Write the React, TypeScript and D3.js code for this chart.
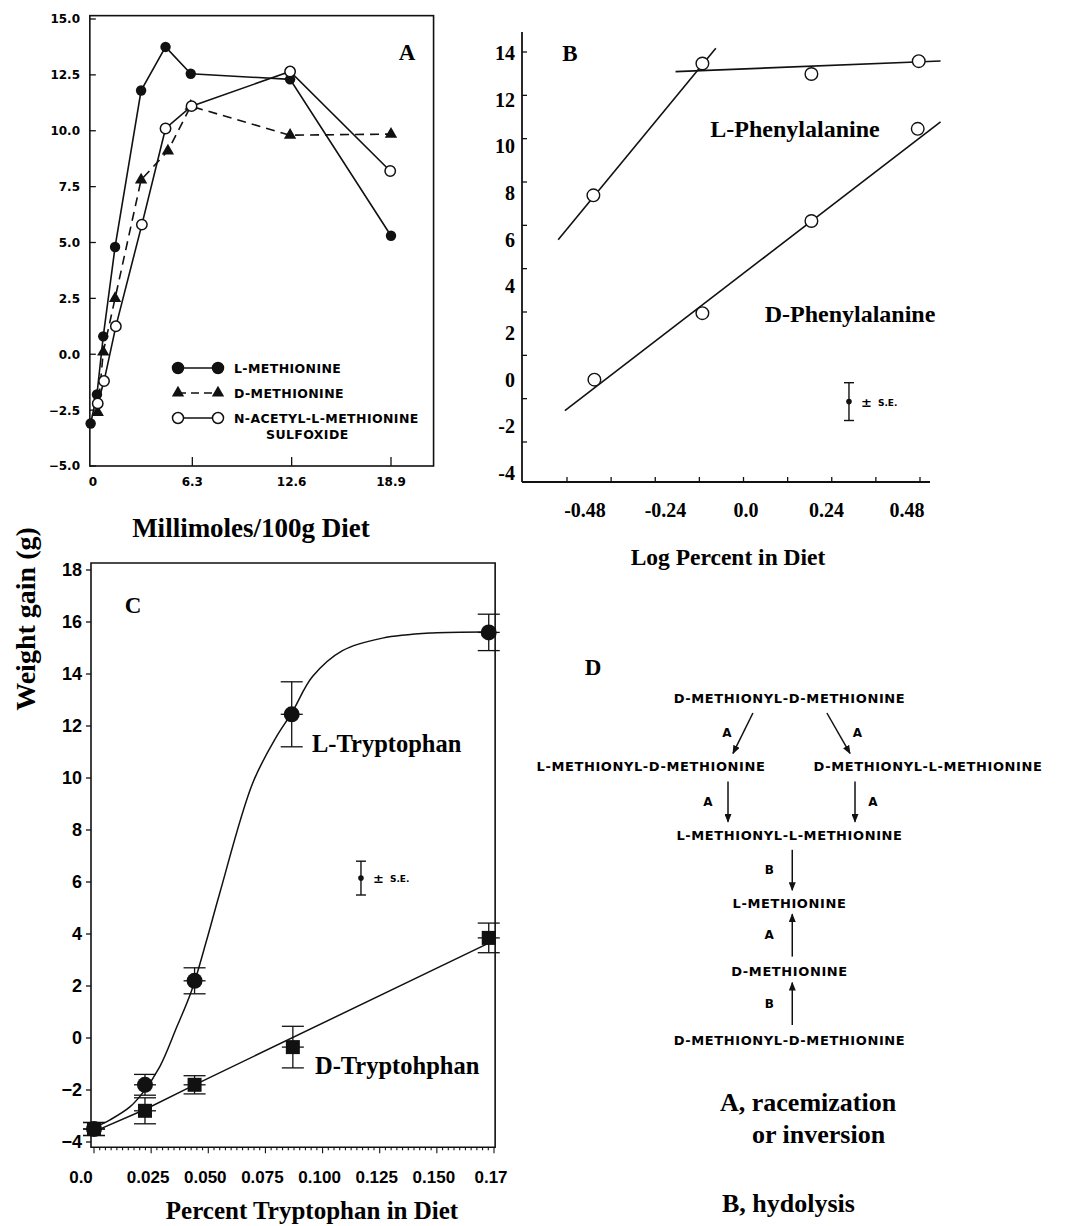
import * as d3 from "d3";

const SERIF = "'Liberation Serif', 'Times New Roman', serif";
const ARIAL = "'Liberation Sans', Arial, sans-serif";
const DEJAVU = "'DejaVu Sans', Verdana, sans-serif";
const INK = "#111";

// ---- Panel A: weight gain vs millimoles / 100 g diet
const aTicksY = [-5, -2.5, 0, 2.5, 5, 7.5, 10, 12.5, 15];
const aTicksX = [0, 6.3, 12.6, 18.9];
const lMetX = [-0.15, 0.25, 0.65, 1.4, 3.05, 4.6, 6.2, 12.5, 18.9];
const lMetY = [-3.1, -1.8, 0.8, 4.8, 11.8, 13.75, 12.55, 12.3, 5.3];
const dMetX = [0.3, 0.65, 1.4, 3.05, 4.75, 6.2, 12.5, 18.9];
const dMetY = [-2.6, 0.1, 2.5, 7.8, 9.1, 11.1, 9.8, 9.85];
const nAcX = [0.3, 0.7, 1.45, 3.1, 4.6, 6.25, 12.5, 18.85];
const nAcY = [-2.2, -1.2, 1.25, 5.8, 10.1, 11.1, 12.65, 8.2];
const aLegend = ["L-METHIONINE", "D-METHIONINE", "N-ACETYL-L-METHIONINE"];

// ---- Panel B: log percent in diet
const bTicksY = [-4, -2, 0, 2, 4, 6, 8, 10, 12, 14];
const bTicksX = [-0.48, -0.24, 0, 0.24, 0.48];
const bTickLabelsX = ["-0.48", "-0.24", "0.0", "0.24", "0.48"];
const lPheX = [-0.455, -0.13, 0.195, 0.515];
const lPheY = [7.9, 13.55, 13.1, 13.65];
const dPheX = [-0.452, -0.13, 0.195, 0.512];
const dPheY = [0.0, 2.85, 6.8, 10.75];
const lPheRiseX = [-0.56, -0.09];
const lPheRiseY = [6.0, 14.2];
const lPhePlateauX = [-0.21, 0.58];
const lPhePlateauY = [13.2, 13.66];
const dPheFitX = [-0.54, 0.58];
const dPheFitY = [-1.33, 11.05];
const bSE = { x: 0.307, y: -0.94, se: 0.81 };

// ---- Panel C: percent tryptophan in diet
const cTicksY = [-4, -2, 0, 2, 4, 6, 8, 10, 12, 14, 16, 18];
const cTicksX = [0, 0.025, 0.05, 0.075, 0.1, 0.125, 0.15, 0.175];
const cTickLabelsX = ["0.0", "0.025", "0.050", "0.075", "0.100", "0.125", "0.150", "0.17"];
const lTrpX = [0, 0.0223, 0.044, 0.0865, 0.1727];
const lTrpY = [-3.5, -1.8, 2.2, 12.45, 15.6];
const lTrpErr = [0.25, 0.4, 0.5, 1.25, 0.7];
const dTrpX = [0, 0.0223, 0.044, 0.087, 0.1727];
const dTrpY = [-3.5, -2.8, -1.8, -0.35, 3.85];
const dTrpErr = [0.25, 0.5, 0.35, 0.8, 0.57];
const lTrpCurveX = [0, 0.007, 0.0157, 0.0214, 0.0288, 0.0362, 0.0428, 0.0493, 0.055, 0.0694, 0.0799, 0.0865, 0.0956, 0.1087, 0.1262, 0.148, 0.1725];
const lTrpCurveY = [-3.46, -3.15, -2.65, -2.1, -1.1, 0.42, 1.85, 3.77, 5.57, 9.8, 11.6, 12.5, 13.9, 14.9, 15.38, 15.58, 15.62];
const dTrpLineX = [0, 0.0223, 0.044, 0.1727];
const dTrpLineY = [-3.6, -2.75, -1.8, 3.65];
const cSE = { x: 0.1168, y: 6.15, se: 0.65 };

// ---- Panel D: pathway
const dNodes = [
  { label: "D-METHIONYL-D-METHIONINE", row: 0, col: 0 },
  { label: "L-METHIONYL-D-METHIONINE", row: 1, col: -1 },
  { label: "D-METHIONYL-L-METHIONINE", row: 1, col: 1 },
  { label: "L-METHIONYL-L-METHIONINE", row: 2, col: 0 },
  { label: "L-METHIONINE", row: 3, col: 0 },
  { label: "D-METHIONINE", row: 4, col: 0 },
  { label: "D-METHIONYL-D-METHIONINE", row: 5, col: 0 },
];
const dEdges = [
  { from: 0, to: 1, c0: -0.264, c1: -0.408, step: "A", dx: -16 },
  { from: 0, to: 1, c0: 0.27, c1: 0.437, step: "A", dx: 19 },
  { from: 1, to: 2, c0: -0.444, c1: -0.444, step: "A", dx: -20 },
  { from: 1, to: 2, c0: 0.473, c1: 0.473, step: "A", dx: 18 },
  { from: 2, to: 3, c0: 0.02, c1: 0.02, step: "B", dx: -23 },
  { from: 4, to: 3, c0: 0.02, c1: 0.02, step: "A", dx: -23 },
  { from: 5, to: 4, c0: 0.02, c1: 0.02, step: "B", dx: -23 },
];

type Pt = [number, number];
const pairs = (xs: number[], ys: number[]): Pt[] => xs.map((v, i) => [v, ys[i]]);

function PanelA() {
  const x = d3.scaleLinear().domain([0, 18.9]).range([93, 391]);
  const y = d3.scaleLinear().domain([-5, 15]).range([466, 19]);
  const left = x(-0.2), right = x(21.6), top = y(15.15), bottom = y(-5);
  const line = d3.line<Pt>().x((d) => x(d[0])).y((d) => y(d[1]));
  const tri = d3.symbol().type(d3.symbolTriangle).size(66)()!;
  const fmt = d3.format(".1f");
  const lm = pairs(lMetX, lMetY);
  const dm = pairs(dMetX, dMetY);
  const na = pairs(nAcX, nAcY);
  return (
    <g>
      <rect x={left} y={top} width={right - left} height={bottom - top} fill="none" stroke={INK} strokeWidth={1.6} />
      {aTicksY.map((t) => (
        <g key={t}>
          <line x1={left} x2={left + 6} y1={y(t)} y2={y(t)} stroke={INK} strokeWidth={1.3} />
          <text x={80} y={y(t) + 4.4} textAnchor="end" fontFamily={DEJAVU} fontWeight="bold" fontSize={12}>
            {fmt(t)}
          </text>
        </g>
      ))}
      {aTicksX.map((t) => (
        <g key={t}>
          {t > 0 && <line x1={x(t)} x2={x(t)} y1={bottom} y2={bottom - 9} stroke={INK} strokeWidth={1.3} />}
          <text x={x(t)} y={y(-5) + 20} textAnchor="middle" fontFamily={DEJAVU} fontWeight="bold" fontSize={12}>
            {t === 0 ? "0" : t.toFixed(1)}
          </text>
        </g>
      ))}
      <path d={line(lm)!} fill="none" stroke={INK} strokeWidth={1.6} />
      <path d={line(dm)!} fill="none" stroke={INK} strokeWidth={1.6} strokeDasharray="9 6" />
      <path d={line(na)!} fill="none" stroke={INK} strokeWidth={1.6} />
      {lm.map((d, i) => (
        <circle key={"l" + i} cx={x(d[0])} cy={y(d[1])} r={5.2} fill={INK} />
      ))}
      {dm.map((d, i) => (
        <path key={"d" + i} d={tri} transform={`translate(${x(d[0])},${y(d[1])})`} fill={INK} />
      ))}
      {na.map((d, i) => (
        <circle key={"n" + i} cx={x(d[0])} cy={y(d[1])} r={5.2} fill="#fff" stroke={INK} strokeWidth={1.5} />
      ))}
      <text x={407} y={59.5} textAnchor="middle" fontFamily={SERIF} fontWeight="bold" fontSize={23}>A</text>
      {aLegend.map((label, i) => {
        const ly = 368 + i * 25;
        return (
          <g key={label}>
            <line x1={178} x2={218} y1={ly} y2={ly} stroke={INK} strokeWidth={1.6} strokeDasharray={i === 1 ? "8 5" : undefined} />
            {[178, 218].map((mx) =>
              i === 1 ? (
                <path key={mx} d={tri} transform={`translate(${mx},${ly})`} fill={INK} />
              ) : (
                <circle key={mx} cx={mx} cy={ly} r={5.5} fill={i === 0 ? INK : "#fff"} stroke={INK} strokeWidth={1.5} />
              )
            )}
            <text x={234} y={ly + 4.6} fontFamily={DEJAVU} fontWeight="bold" fontSize={12.5} letterSpacing={0.4}>
              {label}
            </text>
            {i === 2 && (
              <text x={266} y={ly + 20.6} fontFamily={DEJAVU} fontWeight="bold" fontSize={12.5} letterSpacing={0.4}>
                SULFOXIDE
              </text>
            )}
          </g>
        );
      })}
      <text x={251} y={537} textAnchor="middle" fontFamily={SERIF} fontWeight="bold" fontSize={27}>
        Millimoles/100g Diet
      </text>
    </g>
  );
}

function SEMark({ cx, cy, half, size }: { cx: number; cy: number; half: number; size: number }) {
  return (
    <g>
      <line x1={cx} x2={cx} y1={cy - half} y2={cy + half} stroke={INK} strokeWidth={1.4} />
      <line x1={cx - 5} x2={cx + 5} y1={cy - half} y2={cy - half} stroke={INK} strokeWidth={1.4} />
      <line x1={cx - 5} x2={cx + 5} y1={cy + half} y2={cy + half} stroke={INK} strokeWidth={1.4} />
      <circle cx={cx} cy={cy} r={2.8} fill={INK} />
      <text x={cx + 12} y={cy + 5} fontFamily={DEJAVU} fontWeight="bold" fontSize={size + 4}>±</text>
      <text x={cx + 29} y={cy + 4} fontFamily={DEJAVU} fontWeight="bold" fontSize={size}>S.E.</text>
    </g>
  );
}

function PanelB() {
  const x = d3.scaleLinear().domain([-0.48, 0.48]).range([585, 907]);
  const y = d3.scaleLinear().domain([-4, 14]).range([473, 53]);
  // tick marks of the pasted-up axis sit on a slightly tighter spacing than the labels
  const yTick = d3.scaleLinear().domain([-4, 14]).range([442, 52]);
  const xTick = d3.scaleLinear().domain([0, 8]).range([567, 920]);
  const axisX = 522, axisY = 482;
  const line = d3.line<Pt>().x((d) => x(d[0])).y((d) => y(d[1]));
  return (
    <g>
      <line x1={axisX} x2={axisX} y1={32} y2={axisY} stroke={INK} strokeWidth={1.8} />
      <line x1={axisX} x2={930} y1={axisY} y2={axisY} stroke={INK} strokeWidth={1.8} />
      {bTicksY.map((t) => (
        <g key={t}>
          <line x1={axisX} x2={axisX + 5} y1={yTick(t)} y2={yTick(t)} stroke={INK} strokeWidth={1.3} />
          <text x={515} y={y(t) + 7} textAnchor="end" fontFamily={SERIF} fontWeight="bold" fontSize={20}>
            {t}
          </text>
        </g>
      ))}
      {d3.range(9).map((i) => (
        <line key={i} x1={xTick(i)} x2={xTick(i)} y1={axisY} y2={axisY - 5} stroke={INK} strokeWidth={1.3} />
      ))}
      {bTicksX.map((t, i) => (
        <text key={t} x={x(t)} y={517} textAnchor="middle" fontFamily={SERIF} fontWeight="bold" fontSize={20}>
          {bTickLabelsX[i]}
        </text>
      ))}
      <path d={line(pairs(lPheRiseX, lPheRiseY))!} stroke={INK} strokeWidth={1.6} fill="none" />
      <path d={line(pairs(lPhePlateauX, lPhePlateauY))!} stroke={INK} strokeWidth={1.6} fill="none" />
      <path d={line(pairs(dPheFitX, dPheFitY))!} stroke={INK} strokeWidth={1.6} fill="none" />
      {pairs(lPheX, lPheY).concat(pairs(dPheX, dPheY)).map((d, i) => (
        <circle key={i} cx={x(d[0])} cy={y(d[1])} r={6.3} fill="#fff" stroke={INK} strokeWidth={1.4} />
      ))}
      <SEMark cx={x(bSE.x)} cy={y(bSE.y)} half={y(bSE.y) - y(bSE.y + bSE.se)} size={9} />
      <text x={570} y={60.5} textAnchor="middle" fontFamily={SERIF} fontWeight="bold" fontSize={23}>B</text>
      <text x={795} y={137} textAnchor="middle" fontFamily={SERIF} fontWeight="bold" fontSize={24}>L-Phenylalanine</text>
      <text x={850} y={322} textAnchor="middle" fontFamily={SERIF} fontWeight="bold" fontSize={24}>D-Phenylalanine</text>
      <text x={728} y={565} textAnchor="middle" fontFamily={SERIF} fontWeight="bold" fontSize={23.5}>Log Percent in Diet</text>
    </g>
  );
}

function PanelC() {
  const x = d3.scaleLinear().domain([0, 0.175]).range([94, 494]);
  const y = d3.scaleLinear().domain([-4, 18]).range([1142, 570]);
  const left = 91, right = x(0.1755), top = y(18.27), bottom = y(-4.2);
  const curve = d3.line<Pt>().x((d) => x(d[0])).y((d) => y(d[1])).curve(d3.curveCatmullRom.alpha(0.5));
  const straight = d3.line<Pt>().x((d) => x(d[0])).y((d) => y(d[1]));
  const fmt = d3.format("d");
  const errBar = (cx: number, v: number, e: number, key: string) => (
    <g key={key}>
      <line x1={x(cx)} x2={x(cx)} y1={y(v + e)} y2={y(v - e)} stroke={INK} strokeWidth={1.3} />
      {[v + e, v, v - e].map((t, j) => (
        <line key={j} x1={x(cx) - 11} x2={x(cx) + 11} y1={y(t)} y2={y(t)} stroke={INK} strokeWidth={1.3} />
      ))}
    </g>
  );
  return (
    <g>
      <path d={`M${left},${top}H${right}V${bottom}H${left}Z`} fill="none" stroke={INK} strokeWidth={1.6} />
      {cTicksY.map((t) => (
        <g key={t}>
          <line x1={left - 5} x2={left} y1={y(t)} y2={y(t)} stroke={INK} strokeWidth={1.3} />
          <text x={82} y={y(t) + 6.4} textAnchor="end" fontFamily={ARIAL} fontWeight="bold" fontSize={18}>
            {fmt(t)}
          </text>
        </g>
      ))}
      {d3.range(0, 0.17501, 0.0025).map((t, i) => (
        <line key={i} x1={x(t)} x2={x(t)} y1={bottom} y2={bottom + (i % 10 === 0 ? 6 : 3)} stroke={INK} strokeWidth={1.1} />
      ))}
      {cTicksX.map((t, i) => (
        <text key={t} x={x(t) - (i === 0 ? 13 : 3)} y={1183} textAnchor="middle" fontFamily={ARIAL} fontWeight="bold" fontSize={17}>
          {cTickLabelsX[i]}
        </text>
      ))}
      <path d={curve(pairs(lTrpCurveX, lTrpCurveY))!} fill="none" stroke={INK} strokeWidth={1.5} />
      <path d={straight(pairs(dTrpLineX, dTrpLineY))!} fill="none" stroke={INK} strokeWidth={1.5} />
      {dTrpX.map((v, i) => errBar(v, dTrpY[i], dTrpErr[i], "de" + i))}
      {lTrpX.map((v, i) => errBar(v, lTrpY[i], lTrpErr[i], "le" + i))}
      {dTrpX.map((v, i) => (
        <rect key={"ds" + i} x={x(v) - 7} y={y(dTrpY[i]) - 7} width={14} height={14} fill={INK} />
      ))}
      {lTrpX.map((v, i) => (
        <circle key={"lc" + i} cx={x(v)} cy={y(lTrpY[i])} r={8} fill={INK} />
      ))}
      <SEMark cx={x(cSE.x)} cy={y(cSE.y)} half={y(cSE.y) - y(cSE.y + cSE.se)} size={9} />
      <text x={133} y={613} textAnchor="middle" fontFamily={SERIF} fontWeight="bold" fontSize={23}>C</text>
      <text x={312} y={752} fontFamily={SERIF} fontWeight="bold" fontSize={24.5}>L-Tryptophan</text>
      <text x={315} y={1074} fontFamily={SERIF} fontWeight="bold" fontSize={24.5}>D-Tryptohphan</text>
      <text x={312} y={1219} textAnchor="middle" fontFamily={SERIF} fontWeight="bold" fontSize={25}>
        Percent Tryptophan in Diet
      </text>
      <text transform="translate(35,619) rotate(-90)" textAnchor="middle" fontFamily={SERIF} fontWeight="bold" fontSize={28}>
        Weight gain (g)
      </text>
    </g>
  );
}

function PanelD() {
  const col = d3.scaleLinear().domain([-1, 1]).range([651, 928]);
  const row = d3.scaleLinear().domain([0, 5]).range([698, 1040]);
  return (
    <g>
      <text x={593} y={675} textAnchor="middle" fontFamily={SERIF} fontWeight="bold" fontSize={23}>D</text>
      {dNodes.map((n, i) => (
        <text key={i} x={col(n.col)} y={row(n.row) + 4.7} textAnchor="middle" fontFamily={DEJAVU} fontWeight="bold" fontSize={13} letterSpacing={0.6}>
          {n.label}
        </text>
      ))}
      {dEdges.map((e, i) => {
        const down = e.to > e.from;
        const y0 = down ? row(e.from) + 15 : row(e.from) - 15;
        const y1 = down ? row(e.to) - 13 : row(e.to) + 11;
        const x0 = col(e.c0), x1 = col(e.c1);
        return (
          <g key={i}>
            <line x1={x0} y1={y0} x2={x1} y2={y1} stroke={INK} strokeWidth={1.5} markerEnd="url(#arrowHead)" />
            <text x={(x0 + x1) / 2 + e.dx} y={(y0 + y1) / 2 + 4} textAnchor="middle" fontFamily={DEJAVU} fontWeight="bold" fontSize={12}>
              {e.step}
            </text>
          </g>
        );
      })}
      <text x={720} y={1111} fontFamily={SERIF} fontWeight="bold" fontSize={26}>A, racemization</text>
      <text x={752} y={1143} fontFamily={SERIF} fontWeight="bold" fontSize={26}>or inversion</text>
      <text x={722} y={1212} fontFamily={SERIF} fontWeight="bold" fontSize={26}>B, hydolysis</text>
    </g>
  );
}

export default function App() {
  return (
    <svg width={1085} height={1226} viewBox="0 0 1085 1226" style={{ position: "absolute", left: 0, top: 0, background: "#fff" }}>
      <defs>
        <marker id="arrowHead" viewBox="0 0 10 8" refX={9} refY={4} markerWidth={9} markerHeight={7} markerUnits="userSpaceOnUse" orient="auto">
          <path d="M0,0 L10,4 L0,8 Z" fill={INK} />
        </marker>
      </defs>
      <PanelA />
      <PanelB />
      <PanelC />
      <PanelD />
    </svg>
  );
}
